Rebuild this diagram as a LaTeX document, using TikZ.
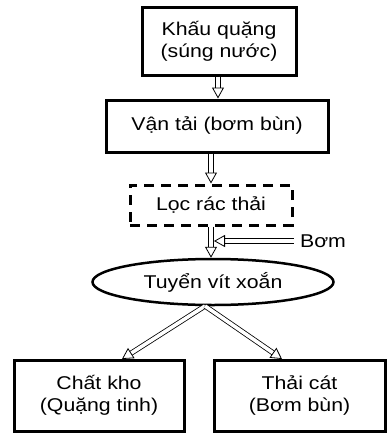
\documentclass[tikz,border=0pt]{standalone}
\usepackage{fontspec}
\setmainfont{Liberation Sans}[FakeStretch=1.15]
\usetikzlibrary{arrows.meta, shapes.geometric, calc}

\tikzset{
  hop/.style={draw, line width=3pt, align=center, inner sep=0pt,
    font=\fontsize{18.5}{22}\selectfont},
  hopnet/.style={hop, dashed, dash pattern=on 10pt off 7pt},
  elip/.style={hop, ellipse, line width=2.5pt},
  muiten/.style={double, double distance=3.6pt, line width=0.8pt,
    -{Triangle[open, length=11pt, width=12pt]}},
}

\begin{document}
\begin{tikzpicture}[x=1pt, y=-1pt]
        \useasboundingbox (0,0) rectangle (390,434);

        \node[hop, minimum width=154pt, minimum height=68pt] (khau) at (219,41) {Khấu quặng\\(súng nước)};
        \node[hop, minimum width=222pt, minimum height=52pt] (vantai) at (217,126) {Vận tải (bơm bùn)};
        \node[hopnet, minimum width=162pt, minimum height=40pt] (loc) at (211,205) {Lọc rác thải};
        \node[elip, minimum width=241pt, minimum height=46pt] (tuyen) at (213,282) {Tuyển vít xoắn};
        \node[hop, minimum width=170pt, minimum height=71pt] (chat) at (99,395.5) {Chất kho\\(Quặng tinh)};
        \node[hop, minimum width=171pt, minimum height=71pt] (thai) at (299.5,395.5) {Thải cát\\(Bơm bùn)};
        \node[font=\fontsize{18.5}{22}\selectfont, inner sep=6pt] (bom) at (323,241) {Bơm};

        \coordinate (nhap) at (214,241);
        \coordinate (tach) at (205,306);
        \coordinate (vaokho) at (122,359);
        \coordinate (vaothai) at (282,359);

        \draw[muiten] (khau.south -| 218,0) -- (vantai.north -| 218,0);
        \draw[muiten] (vantai.south -| loc.north) -- (loc.north);
        \draw[muiten] (loc.south) -- (loc.south |- tuyen.north);
        \draw[muiten] (bom.west) -- (nhap);

        \draw[muiten] (tach) -- (vaokho);
        \draw[muiten] (tach) -- (vaothai);
    \end{tikzpicture}
\end{document}
